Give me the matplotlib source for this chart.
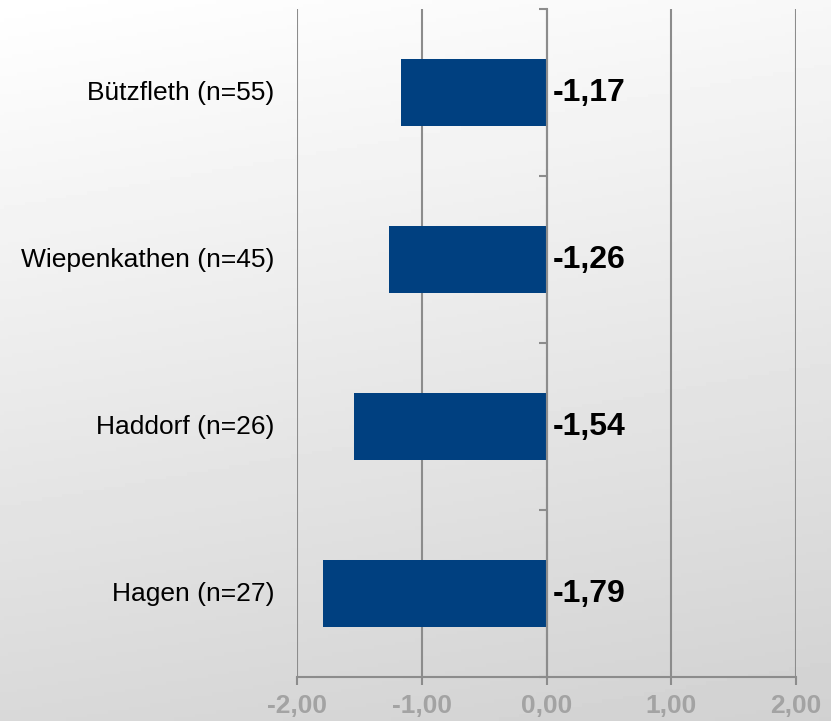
import matplotlib.pyplot as plt
import numpy as np

# Daten
orte = ["Bützfleth (n=55)", "Wiepenkathen (n=45)", "Haddorf (n=26)", "Hagen (n=27)"]
werte = [-1.17, -1.26, -1.54, -1.79]
ticks = [-2, -1, 0, 1, 2]
tick_labels = ["-2,00", "-1,00", "0,00", "1,00", "2,00"]

plt.rcParams['font.family'] = ['Liberation Sans', 'DejaVu Sans']

fig = plt.figure(figsize=(8.31, 7.21), dpi=100)

# Hintergrund mit Verlauf
bg = fig.add_axes([0, 0, 1, 1], zorder=-10)
yy, xx = np.mgrid[0:1:200j, 0:1:200j]
grau = 1.0 - 0.15 * yy - 0.03 * xx
bg.imshow(grau, cmap="gray", vmin=0, vmax=1, aspect="auto", extent=[0, 1, 1, 0])
bg.axis("off")

ax = fig.add_axes([0.3574, 0.061, 0.6005, 0.9265])
ax.patch.set_alpha(0)

pos = np.arange(len(orte))[::-1]
ax.barh(pos, werte, height=0.4, color="#004080", zorder=3)

for p, w in zip(pos, werte):
    ax.text(0.05, p, f"{w:.2f}".replace(".", ","), va="center", ha="left",
            fontsize=23, fontweight="bold", color="black", zorder=4)
    ax.text(-0.045, p, orte[len(orte) - 1 - p], transform=ax.get_yaxis_transform(),
            va="center", ha="right", fontsize=19, color="black")

ax.set_xlim(-2, 2)
ax.set_ylim(-0.5, len(orte) - 0.5)
ax.set_xticks(ticks)
ax.set_xticklabels(tick_labels, fontsize=19, fontweight="bold", color="#a3a3a3")
ax.tick_params(axis="x", length=6, width=1.5, color="#8c8c8c", pad=6)
ax.grid(axis="x", color="#8c8c8c", linewidth=1.5, zorder=0)

# y-Achse bei 0 mit Strichen zwischen den Kategorien
ax.spines["left"].set_position(("data", 0))
ax.spines["left"].set_color("#8c8c8c")
ax.spines["left"].set_linewidth(1.5)
ax.spines["left"].set_zorder(5)
ax.set_yticks(np.arange(-0.5, len(orte), 1))
ax.set_yticklabels([])
ax.tick_params(axis="y", length=6, width=1.5, color="#8c8c8c")
ax.spines["bottom"].set_color("#8c8c8c")
ax.spines["bottom"].set_linewidth(1.5)
ax.spines["top"].set_visible(False)
ax.spines["right"].set_visible(False)

fig.savefig("out.png", dpi=100)
